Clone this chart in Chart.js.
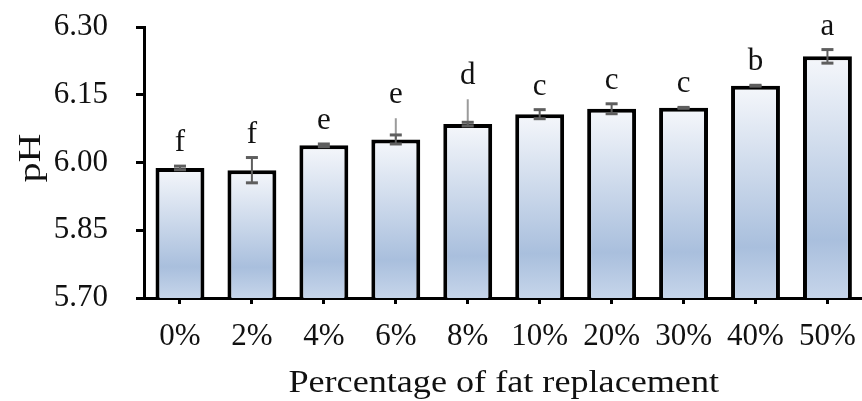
<!DOCTYPE html>
<html>
<head>
<meta charset="utf-8">
<title>pH</title>
<script src="https://cdn.jsdelivr.net/npm/chart.js@4/dist/chart.umd.min.js"></script>
<style>
  html, body { margin: 0; padding: 0; background: #fff; overflow: hidden; }
  #wrap { width: 862px; height: 401px; overflow: hidden; }
  canvas { display: block; }
</style>
</head>
<body>
<div id="wrap"><canvas id="chart-ph" width="870" height="401"></canvas></div>
<script>
// pH by percentage of fat replacement
const categories = ['0%', '2%', '4%', '6%', '8%', '10%', '20%', '30%', '40%', '50%'];
const phMeans = [5.988, 5.983, 6.038, 6.051, 6.085, 6.107, 6.119, 6.121, 6.170, 6.235];
const phSD = [0.004, 0.028, 0.003, 0.010, 0.004, 0.010, 0.011, 0.001, 0.001, 0.015];
// uncapped upper whiskers on two of the groups
const phWhiskerTop = [null, null, null, 6.098, 6.140, null, null, null, null, null];
const groupLetters = ['f', 'f', 'e', 'e', 'd', 'c', 'c', 'c', 'b', 'a'];
const yTicks = [5.70, 5.85, 6.00, 6.15, 6.30];

const SERIF = "'Liberation Serif', 'Times New Roman', serif";
const INK = '#111';

// each bar fades from white at its top to steel blue near its base
function barFill(context) {
    const chart = context.chart;
    const y = chart.scales.y;
    if (!y || !chart.chartArea) return '#b8c9e1';
    const top = y.getPixelForValue(phMeans[context.dataIndex]);
    const bottom = y.getPixelForValue(y.min);
    const g = chart.ctx.createLinearGradient(0, top, 0, bottom);
    g.addColorStop(0, '#f5f7fb');
    g.addColorStop(0.76, '#a9bfdd');
    g.addColorStop(1, '#c6d5ea');
    return g;
}

// error bars + significance letters
const errorBars = {
    id: 'errorBars',
    afterDatasetsDraw(chart) {
        const { ctx, scales: { x, y } } = chart;
        const seg = (x1, y1, x2, y2) => {
            ctx.beginPath();
            ctx.moveTo(x1, y1);
            ctx.lineTo(x2, y2);
            ctx.stroke();
        };
        ctx.save();
        phMeans.forEach((m, i) => {
            const cx = x.getPixelForValue(i);
            let top = y.getPixelForValue(m + phSD[i]);
            if (phWhiskerTop[i] !== null) {
                const wy = y.getPixelForValue(phWhiskerTop[i]);
                ctx.strokeStyle = '#9b9b9b';
                ctx.lineWidth = 2;
                seg(cx, y.getPixelForValue(m), cx, wy);
                top = Math.min(top, wy);
            }
            const hi = y.getPixelForValue(m + phSD[i]);
            const lo = y.getPixelForValue(m - phSD[i]);
            ctx.strokeStyle = '#5e5e5e';
            ctx.lineWidth = 2;
            seg(cx, hi, cx, lo);
            ctx.lineWidth = 3;
            seg(cx - 6, hi, cx + 6, hi);
            seg(cx - 6, lo, cx + 6, lo);

            ctx.fillStyle = INK;
            ctx.font = '31px ' + SERIF;
            ctx.textAlign = 'center';
            ctx.textBaseline = 'alphabetic';
            ctx.fillText(groupLetters[i], cx, top - 15);
        });
        ctx.restore();
    }
};

// axis titles, drawn a bit wide like the rest of the lettering
const axisTitles = {
    id: 'axisTitles',
    afterDraw(chart) {
        const { ctx, chartArea } = chart;
        ctx.save();
        ctx.fillStyle = INK;
        ctx.textAlign = 'center';
        ctx.textBaseline = 'alphabetic';

        ctx.save();
        ctx.font = '32px ' + SERIF;
        ctx.translate((chartArea.left + chartArea.right) / 2, 392);
        ctx.scale(1.13, 1);
        ctx.fillText('Percentage of fat replacement', 0, 0);
        ctx.restore();

        ctx.save();
        ctx.font = '32px ' + SERIF;
        ctx.translate(40, 158);
        ctx.rotate(-Math.PI / 2);
        ctx.scale(1.25, 1);
        ctx.fillText('pH', 0, 0);
        ctx.restore();

        ctx.restore();
    }
};

const chartPH = new Chart(document.getElementById('chart-ph').getContext('2d'), {
    type: 'bar',
    data: {
        labels: categories,
        datasets: [{
            label: 'pH',
            data: phMeans,
            backgroundColor: barFill,
            borderColor: '#000',
            borderWidth: 4,
            borderSkipped: 'bottom',
            barPercentage: 0.68,
            categoryPercentage: 1.0
        }]
    },
    options: {
        responsive: false,
        animation: false,
        devicePixelRatio: 1,
        layout: { padding: { top: 27, right: 3, left: 0, bottom: 0 } },
        plugins: {
            legend: { display: false },
            tooltip: { enabled: false }
        },
        scales: {
            x: {
                offset: true,
                grid: {
                    drawOnChartArea: false,
                    offset: false,
                    tickLength: 6,
                    tickWidth: 3,
                    tickColor: '#000'
                },
                border: { color: '#000', width: 3 },
                ticks: {
                    color: INK,
                    font: { family: SERIF, size: 31 },
                    padding: 14,
                    maxRotation: 0,
                    autoSkip: false
                },
                afterFit(s) { s.height = 103; }
            },
            y: {
                min: 5.70,
                max: 6.30,
                afterBuildTicks(s) { s.ticks = yTicks.map(v => ({ value: v })); },
                grid: {
                    drawOnChartArea: false,
                    tickLength: 8,
                    tickWidth: 3,
                    tickColor: '#000'
                },
                border: { color: '#000', width: 3 },
                ticks: {
                    color: INK,
                    font: { family: SERIF, size: 31 },
                    padding: 28,
                    callback: v => v.toFixed(2)
                },
                // keep the plot box edges fixed; labels may overhang
                afterFit(s) {
                    s.width = 144;
                    s.paddingTop = 0;
                    s.paddingBottom = 0;
                }
            }
        }
    },
    plugins: [errorBars, axisTitles]
});
</script>
</body>
</html>
